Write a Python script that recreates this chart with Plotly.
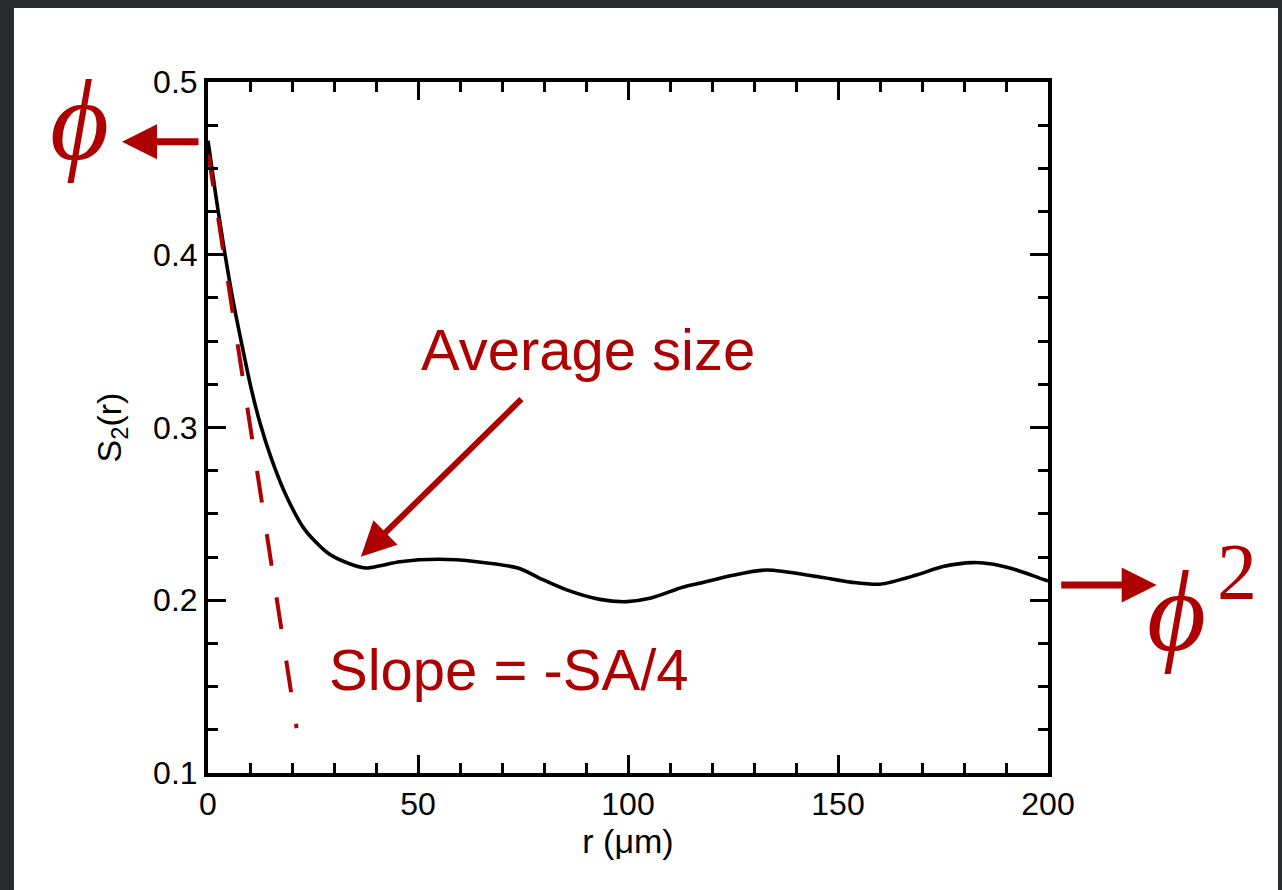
import plotly.graph_objects as go

# ---- data ----
r_um = [0, 2, 4, 6, 8, 10, 12.4, 15.2, 18.7, 23.1, 28.6, 33.4, 37.5, 41, 45.7, 55, 64,
        74, 79, 85.4, 93.3, 99.7, 105.2, 113, 117, 125, 133, 145, 153, 160, 168.7,
        175, 182.2, 187, 192.5, 198.8, 200]
s2_r = [0.466, 0.432, 0.401, 0.373, 0.3487, 0.3256, 0.3024, 0.2812, 0.2600, 0.2407,
        0.2272, 0.2214, 0.2187, 0.2200, 0.2223, 0.2237, 0.2223, 0.2185, 0.2127, 0.2060,
        0.2005, 0.1992, 0.2011, 0.2075, 0.2098, 0.2145, 0.2175, 0.2137, 0.2105, 0.2093,
        0.2146, 0.2195, 0.2218, 0.2208, 0.2175, 0.2121, 0.2112]

slope_r = [0.1, 21.1]
slope_s2 = [0.458, 0.126]

x_ticks = [0, 50, 100, 150, 200]
y_ticks = [0.1, 0.2, 0.3, 0.4, 0.5]

RED = "#AE0000"

fig = go.Figure()
fig.add_trace(go.Scatter(x=r_um, y=s2_r, mode="lines",
                         line=dict(color="black", width=3.6, shape="spline", smoothing=0.8),
                         showlegend=False))
fig.add_trace(go.Scatter(x=slope_r, y=slope_s2, mode="lines",
                         line=dict(color=RED, width=4, dash="32px,32px"),
                         showlegend=False))

W, H = 1282, 890
L, R, T, B = 208, 234, 82, 117
pw, ph = W - L - R, H - T - B

def px2paper(px, py):
    return (px - L) / pw, (H - B - py) / ph

x0, y1 = px2paper(14, 8)
x1, y0 = px2paper(1278, 900)
fig.add_shape(type="rect", xref="paper", yref="paper", x0=x0, x1=x1, y0=y0, y1=y1,
              fillcolor="white", line=dict(width=0), layer="below")

axis_common = dict(showline=True, linewidth=4, linecolor="black", mirror="allticks",
                   ticks="inside", ticklen=18, tickwidth=3, tickcolor="black",
                   showgrid=False, zeroline=False,
                   tickfont=dict(family="Liberation Sans, Arial", size=32, color="black"))

fig.update_xaxes(range=[0, 200], tickvals=x_ticks,
                 minor=dict(ticks="inside", ticklen=10, tickwidth=3, dtick=10, tickcolor="black", showgrid=False),
                 title=dict(text="r (μm)", font=dict(family="Liberation Sans, Arial", size=34, color="black"), standoff=0),
                 **axis_common)
fig.update_yaxes(range=[0.1, 0.5], tickvals=y_ticks, tickformat=".1f",
                 minor=dict(ticks="inside", ticklen=10, tickwidth=3, dtick=0.025, tickcolor="black", showgrid=False),
                 title=dict(text="S<sub>2</sub>(r)", font=dict(family="Liberation Sans, Arial", size=34, color="black"), standoff=22),
                 **axis_common)

txt_font = dict(family="Liberation Sans, Arial", size=58, color=RED)
sym_font = dict(family="Liberation Serif, DejaVu Serif, Times New Roman", size=114, color=RED)

fig.add_annotation(x=90.5, y=0.3454, text="Average size", showarrow=False, font=txt_font)
fig.add_annotation(x=71.7, y=0.1602, text="Slope = -SA/4", showarrow=False, font=txt_font)
fig.add_annotation(x=36.4, y=0.2252, ax=162, ay=-159, text="", showarrow=True,
                   arrowhead=2, arrowwidth=6, arrowsize=1.15, arrowcolor=RED)

# phi (left) and phi^2 (right), placed outside the plot area in paper coordinates
px, py = px2paper(122, 141.7)
fig.add_annotation(xref="paper", yref="paper", x=px, y=py, ax=78, ay=0, text="",
                   showarrow=True, arrowhead=2, arrowwidth=7, arrowsize=1.0, arrowcolor=RED)
px, py = px2paper(79, 121)
fig.add_annotation(xref="paper", yref="paper", x=px, y=py, text="<i>ϕ</i>",
                   xanchor="center", yanchor="middle", showarrow=False, font=sym_font)
px, py = px2paper(1156.7, 585)
fig.add_annotation(xref="paper", yref="paper", x=px, y=py, ax=-97, ay=0, text="",
                   showarrow=True, arrowhead=2, arrowwidth=7, arrowsize=1.0, arrowcolor=RED)
px, py = px2paper(1176, 611)
fig.add_annotation(xref="paper", yref="paper", x=px, y=py, text="<i>ϕ</i>",
                   xanchor="center", yanchor="middle", showarrow=False, font=sym_font)
px, py = px2paper(1236.5, 572)
fig.add_annotation(xref="paper", yref="paper", x=px, y=py, text="2", showarrow=False,
                   xanchor="center", yanchor="middle",
                   font=dict(family="Liberation Serif, Times New Roman", size=80, color=RED))

fig.update_layout(width=W, height=H, margin=dict(l=L, r=R, t=T, b=B, pad=0),
                  paper_bgcolor="#2a2b2e", plot_bgcolor="white", showlegend=False)

fig.write_html("out.html", config={"displayModeBar": False},
               post_script="document.body.style.margin='0';document.body.style.overflow='hidden';")
